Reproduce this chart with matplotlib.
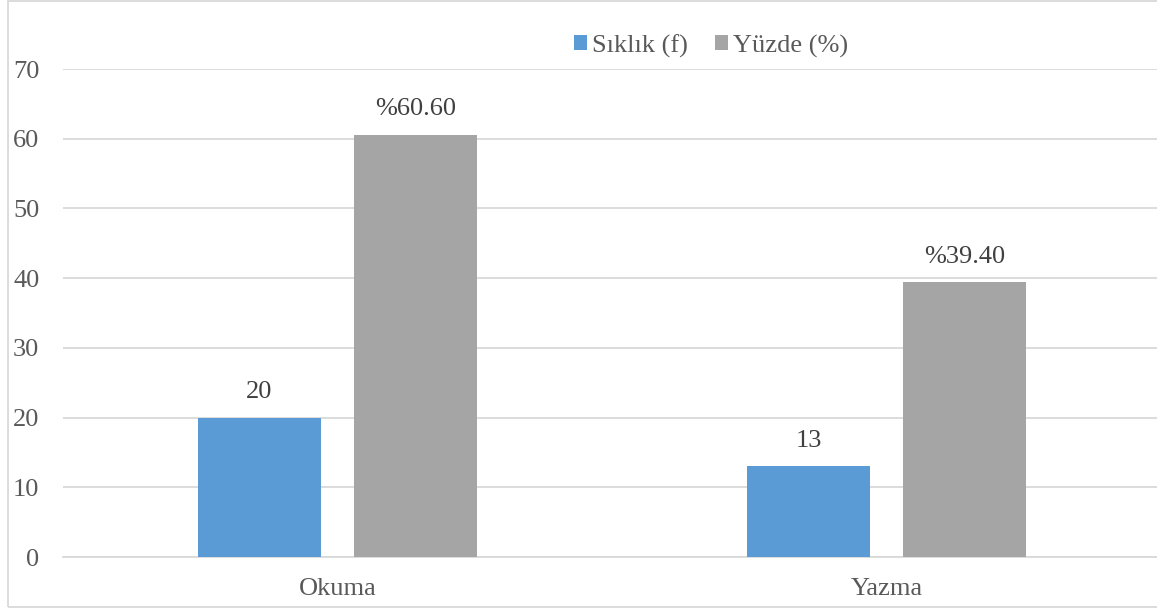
import matplotlib.pyplot as plt
import numpy as np
from matplotlib.patches import Rectangle

# data
categories = ["Okuma", "Yazma"]
siklik = [20, 13]
yuzde = [60.60, 39.40]
siklik_labels = ["20", "13"]
yuzde_labels = ["%60.60", "%39.40"]
yticks = [0, 10, 20, 30, 40, 50, 60, 70]

plt.rcParams['font.family'] = ['Liberation Serif', 'DejaVu Serif']
FS = 19

fig = plt.figure(figsize=(11.57, 6.09), dpi=100)
ax = fig.add_axes([63 / 1157, 1 - 557 / 609, (1157 - 63) / 1157, (557 - 69) / 609])

x = np.arange(len(categories))
w = 0.224
off = 0.142
b1 = ax.bar(x - off, siklik, w, color="#5b9bd5", label="Sıklık (f)", zorder=3)
b2 = ax.bar(x + off, yuzde, w, color="#a5a5a5", label="Yüzde (%)", zorder=3)

for rect, txt in zip(b1, siklik_labels):
    ax.annotate(txt, (rect.get_x() + rect.get_width() / 2, rect.get_height()),
                xytext=(0, 10.5), textcoords="offset points", ha="center", va="bottom",
                fontsize=FS, color="#404040")
for rect, txt in zip(b2, yuzde_labels):
    ax.annotate(txt, (rect.get_x() + rect.get_width() / 2, rect.get_height()),
                xytext=(0, 10.5), textcoords="offset points", ha="center", va="bottom",
                fontsize=FS, color="#404040")

ax.set_ylim(0, 70)
ax.set_xlim(-0.5, -0.5 + 1094 / 549)
ax.set_yticks(yticks)
ax.set_xticks(x)
ax.set_xticklabels(categories)
ax.tick_params(axis="y", length=0, pad=17, labelsize=FS, labelcolor="#595959")
ax.tick_params(axis="x", length=0, pad=15, labelsize=FS, labelcolor="#595959")
ax.yaxis.grid(True, color="#d9d9d9", linewidth=1.3, zorder=0)
ax.set_axisbelow(True)
for s in ["top", "right", "left"]:
    ax.spines[s].set_visible(False)
ax.spines["bottom"].set_color("#d9d9d9")
ax.spines["bottom"].set_linewidth(1.3)

fig.legend(handles=[b1, b2], loc="center", bbox_to_anchor=(711 / 1157, 1 - 46 / 609),
           ncol=2, frameon=False, fontsize=FS, handlelength=0.5, handleheight=0.5,
           handletextpad=0.2, columnspacing=1.0, labelcolor="#595959")

# outer chart border
fig.patches.append(Rectangle((8 / 1157, 2 / 609), 1.2, 1 - 3 / 609, transform=fig.transFigure,
                             fill=False, edgecolor="#d9d9d9", linewidth=1.3))

plt.savefig("out.png", dpi=100)
